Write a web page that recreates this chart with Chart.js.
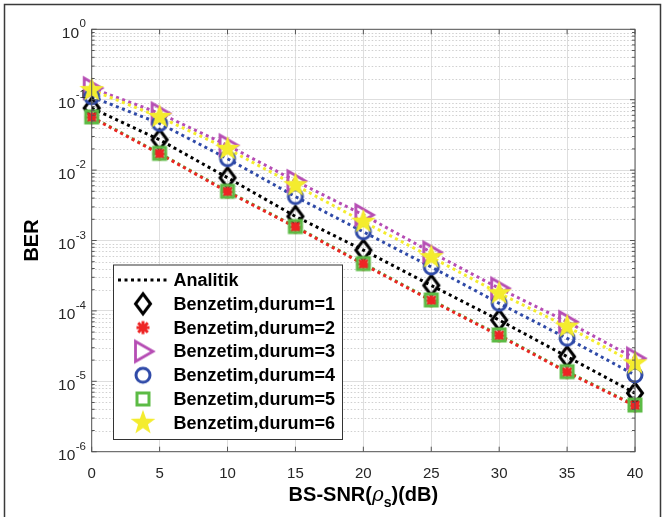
<!DOCTYPE html>
<html>
<head>
<meta charset="utf-8">
<title>BER - BS-SNR</title>
<script src="https://cdn.jsdelivr.net/npm/chart.js@4.4.0/dist/chart.umd.min.js"></script>
<style>
  html, body { margin: 0; padding: 0; background: #fff; }
</style>
</head>
<body>
<canvas id="chart" width="664" height="517"></canvas>
<script>
// SNR values (dB) on the x axis
const snr = [0, 5, 10, 15, 20, 25, 30, 35, 40];

// BER, one array per case
const durum1 = [0.076, 0.027, 0.0078, 0.0022, 0.00073, 0.00023, 0.000074, 0.0000224, 0.0000068];
const durum2 = [0.056, 0.0170, 0.0049, 0.00155, 0.00046, 0.000140, 0.0000445, 0.0000134, 0.0000045];
const durum3 = [0.146, 0.064, 0.0225, 0.0070, 0.00231, 0.00068, 0.000209, 0.000070, 0.0000212];
const durum4 = [0.110, 0.046, 0.0145, 0.0042, 0.00133, 0.00042, 0.000128, 0.0000408, 0.0000123];
const durum5 = [0.057, 0.0173, 0.0050, 0.00158, 0.00047, 0.000143, 0.0000455, 0.0000137, 0.0000046];
const durum6 = [0.137, 0.057, 0.0200, 0.0061, 0.00185, 0.00058, 0.000178, 0.0000597, 0.000018];

const yTicks = [1e-6, 1e-5, 1e-4, 1e-3, 1e-2, 1e-1, 1];
const legendLabels = ['Analitik', 'Benzetim,durum=1', 'Benzetim,durum=2', 'Benzetim,durum=3',
                      'Benzetim,durum=4', 'Benzetim,durum=5', 'Benzetim,durum=6'];

const colors = {
  black: '#000000',
  red: '#ee2424',
  magenta: '#b64db4',
  blue: '#2f4aa8',
  green: '#5cbb45',
  yellow: '#f4ec2e'
};

// marker images (MATLAB-like symbols)
function marker(draw) {
  const c = document.createElement('canvas');
  c.width = 32; c.height = 32;
  const g = c.getContext('2d');
  g.translate(16, 16);
  g.lineWidth = 3;
  g.lineJoin = 'miter';
  draw(g);
  return c;
}
const mkDiamond = marker(g => {
  g.strokeStyle = colors.black;
  g.beginPath(); g.moveTo(0, -10); g.lineTo(7.5, 0); g.lineTo(0, 10); g.lineTo(-7.5, 0); g.closePath(); g.stroke();
});
const mkAsterisk = marker(g => {
  g.strokeStyle = colors.red;
  g.beginPath();
  g.moveTo(-6.5, 0); g.lineTo(6.5, 0); g.moveTo(0, -6.5); g.lineTo(0, 6.5);
  g.moveTo(-4.8, -4.8); g.lineTo(4.8, 4.8); g.moveTo(-4.8, 4.8); g.lineTo(4.8, -4.8);
  g.stroke();
});
const mkTriangle = marker(g => {
  g.strokeStyle = colors.magenta; g.lineWidth = 2.8;
  g.beginPath(); g.moveTo(-7.5, -10); g.lineTo(10, 0); g.lineTo(-7.5, 10); g.closePath(); g.stroke();
});
const mkCircle = marker(g => {
  g.strokeStyle = colors.blue;
  g.beginPath(); g.arc(0, 0, 7, 0, Math.PI * 2); g.stroke();
});
const mkSquare = marker(g => {
  g.strokeStyle = colors.green;
  g.strokeRect(-6, -6, 12, 12);
});
const mkStar = marker(g => {
  g.fillStyle = colors.yellow;
  g.beginPath();
  for (let i = 0; i < 10; i++) {
    const r = i % 2 === 0 ? 13 : 5.2;
    const a = -Math.PI / 2 + i * Math.PI / 5;
    g.lineTo(r * Math.cos(a), r * Math.sin(a));
  }
  g.closePath(); g.fill();
});

const pts = arr => snr.map((x, i) => ({ x: x, y: arr[i] }));

function lineSet(arr, color, order) {
  return { data: pts(arr), showLine: true, pointRadius: 0, borderColor: color,
           borderWidth: 3, borderDash: [3, 3.5], borderCapStyle: 'butt', fill: false, order: order };
}
function markSet(arr, img, order) {
  return { data: pts(arr), showLine: false, pointStyle: img, pointRadius: 10,
           borderWidth: 0, clip: false, order: order };
}

const FONT = '"Liberation Sans", Arial, Helvetica, sans-serif';

const drawExtras = {
  id: 'drawExtras',
  beforeDraw(chart) {
    const ctx = chart.ctx;
    ctx.save();
    ctx.fillStyle = '#fff';
    ctx.fillRect(0, 0, chart.width, chart.height);
    ctx.restore();
  },
  beforeDatasetsDraw(chart) {
    // minor log grid (dotted)
    const ctx = chart.ctx, a = chart.chartArea, ys = chart.scales.y;
    ctx.save();
    ctx.strokeStyle = '#cfcfcf';
    ctx.lineWidth = 1;
    ctx.setLineDash([1.5, 2]);
    for (let n = -6; n < 0; n++) {
      for (let k = 2; k <= 9; k++) {
        const y = Math.round(ys.getPixelForValue(k * Math.pow(10, n))) + 0.5;
        ctx.beginPath(); ctx.moveTo(a.left, y); ctx.lineTo(a.right, y); ctx.stroke();
      }
    }
    ctx.restore();
  },
  afterDraw(chart) {
    const ctx = chart.ctx, a = chart.chartArea, xs = chart.scales.x, ys = chart.scales.y;
    ctx.save();

    // plot box and inward ticks
    ctx.strokeStyle = '#555';
    ctx.lineWidth = 1;
    ctx.strokeRect(a.left, a.top, a.right - a.left, a.bottom - a.top);
    ctx.beginPath();
    snr.forEach(v => {
      const x = xs.getPixelForValue(v);
      ctx.moveTo(x, a.bottom); ctx.lineTo(x, a.bottom - 5);
      ctx.moveTo(x, a.top); ctx.lineTo(x, a.top + 5);
    });
    for (let n = -6; n <= 0; n++) {
      for (let k = 1; k <= 9; k++) {
        if (n === 0 && k > 1) break;
        const y = ys.getPixelForValue(k * Math.pow(10, n));
        const len = k === 1 ? 5 : 3;
        ctx.moveTo(a.left, y); ctx.lineTo(a.left + len, y);
        ctx.moveTo(a.right, y); ctx.lineTo(a.right - len, y);
      }
    }
    ctx.stroke();

    // y tick labels 10^n
    ctx.fillStyle = '#262626';
    ctx.textAlign = 'right';
    ctx.textBaseline = 'alphabetic';
    yTicks.forEach(v => {
      const y = ys.getPixelForValue(v);
      const exp = String(Math.round(Math.log10(v)));
      ctx.font = '11.5px ' + FONT;
      const ew = ctx.measureText(exp).width;
      ctx.fillText(exp, 86, y - 2);
      ctx.font = '15.5px ' + FONT;
      ctx.fillText('10', 86 - ew - 0.5, y + 8.5);
    });

    // y title
    ctx.save();
    ctx.translate(32, (a.top + a.bottom) / 2);
    ctx.rotate(-Math.PI / 2);
    ctx.textAlign = 'center';
    ctx.textBaseline = 'middle';
    ctx.fillStyle = '#000';
    ctx.font = 'bold 20px ' + FONT;
    ctx.fillText('BER', 0, 0);
    ctx.restore();

    // x title with rho and subscript
    const parts = [
      { t: 'BS-SNR(', f: 'bold 20px ' + FONT, dy: 0 },
      { t: 'ρ', f: 'italic 20px "DejaVu Serif", serif', dy: 0 },
      { t: 's', f: 'bold 14px ' + FONT, dy: 6 },
      { t: ')(dB)', f: 'bold 20px ' + FONT, dy: 0 }
    ];
    let total = 0;
    parts.forEach(p => { ctx.font = p.f; p.w = ctx.measureText(p.t).width; total += p.w; });
    let px = (a.left + a.right) / 2 - total / 2;
    ctx.textAlign = 'left';
    ctx.fillStyle = '#000';
    parts.forEach(p => { ctx.font = p.f; ctx.fillText(p.t, px, 501 + p.dy); px += p.w; });

    // legend box
    const lx = 113, ly = 264.5, lw = 229, lh = 174.5;
    ctx.fillStyle = '#fff';
    ctx.fillRect(lx, ly, lw, lh);
    ctx.strokeStyle = '#333';
    ctx.lineWidth = 1;
    ctx.strokeRect(lx + 0.5, ly + 0.5, lw, lh);
    const imgs = [null, mkDiamond, mkAsterisk, mkTriangle, mkCircle, mkSquare, mkStar];
    ctx.font = 'bold 18px ' + FONT;
    ctx.textBaseline = 'middle';
    legendLabels.forEach((lab, i) => {
      const y = 280 + i * 23.8;
      if (i === 0) {
        ctx.save();
        ctx.strokeStyle = colors.black; ctx.lineWidth = 3; ctx.setLineDash([3, 3.5]);
        ctx.beginPath(); ctx.moveTo(118, y); ctx.lineTo(168, y); ctx.stroke();
        ctx.restore();
      } else {
        ctx.drawImage(imgs[i], 143 - 16, y - 16);
      }
      ctx.fillStyle = '#000';
      ctx.fillText(lab, 173.5, y + 1);
    });

    // outer figure frame
    ctx.strokeStyle = '#3a3a3a';
    ctx.lineWidth = 1.5;
    ctx.beginPath();
    ctx.moveTo(4.5, chart.height); ctx.lineTo(4.5, 4.5); ctx.lineTo(660.5, 4.5); ctx.lineTo(660.5, chart.height);
    ctx.stroke();
    ctx.restore();
  }
};

new Chart(document.getElementById('chart'), {
  type: 'scatter',
  data: {
    datasets: [
      markSet(durum6, mkStar, 1),
      markSet(durum5, mkSquare, 2),
      markSet(durum4, mkCircle, 3),
      markSet(durum3, mkTriangle, 4),
      markSet(durum2, mkAsterisk, 5),
      markSet(durum1, mkDiamond, 6),
      lineSet(durum2, colors.red, 11),
      lineSet(durum5, colors.green, 12),
      lineSet(durum1, colors.black, 13),
      lineSet(durum4, colors.blue, 14),
      lineSet(durum6, colors.yellow, 15),
      lineSet(durum3, colors.magenta, 16)
    ]
  },
  options: {
    responsive: false,
    animation: false,
    events: [],
    layout: { padding: { left: 91.7, top: 29.3, right: 29, bottom: 36.3 } },
    plugins: { legend: { display: false }, tooltip: { enabled: false } },
    scales: {
      x: {
        type: 'linear', min: 0, max: 40,
        afterFit: scale => { scale.height = 29; },
        ticks: { stepSize: 5, padding: 13, color: '#262626', font: { family: FONT, size: 15 } },
        grid: { color: '#dedede', drawTicks: false },
        border: { display: false }
      },
      y: {
        type: 'logarithmic', min: 1e-6, max: 1,
        afterFit: scale => { scale.width = 0; },
        afterBuildTicks: scale => { scale.ticks = yTicks.map(v => ({ value: v })); },
        ticks: { display: false },
        grid: { color: '#dedede', drawTicks: false },
        border: { display: false }
      }
    }
  },
  plugins: [drawExtras]
});
</script>
</body>
</html>
